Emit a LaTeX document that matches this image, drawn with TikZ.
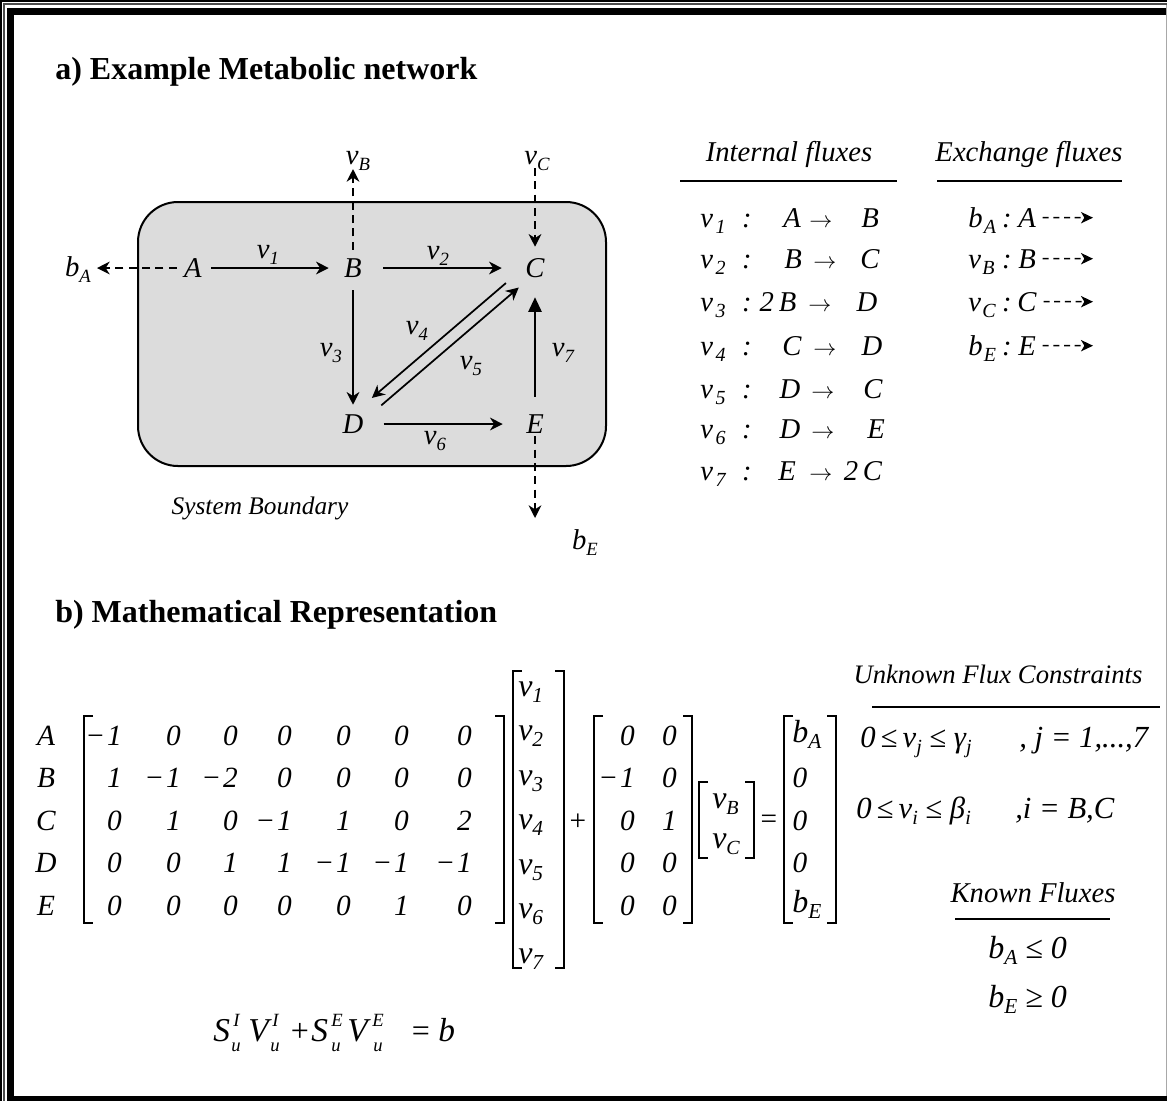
\documentclass[tikz,border=0pt]{standalone}
\usepackage{fontspec}
\setmainfont{Liberation Serif}
\usetikzlibrary{arrows.meta}
\definecolor{boxg}{HTML}{DCDCDC}
\definecolor{frameg}{HTML}{A8A8A8}
\newcommand\fs[1]{\fontsize{#1}{#1}\selectfont}
\newcommand\lo[2][14]{\raisebox{-4.5pt}{\fs{#1}#2}}
\newcommand\mn{−\kern1.5pt}
\newcommand\mylb[3]{\draw[brk] ({#1+9},#2) -- (#1,#2) -- (#1,#3) -- ({#1+9},#3);}
\newcommand\myrb[3]{\draw[brk] ({#1-9},#2) -- (#1,#2) -- (#1,#3) -- ({#1-9},#3);}
\begin{document}
\begin{tikzpicture}[x=0.75pt,y=-0.75pt,
  tx/.style={inner sep=0pt, font=\fs{21.5}\itshape},
  letnode/.style={tx, minimum width=15pt, minimum height=18pt},
  hd/.style={inner sep=0pt, font=\fs{24}\bfseries},
  sysbox/.style={draw, line width=1.5pt, fill=boxg, rounded corners=30pt, minimum width=351pt, minimum height=198pt, inner sep=0pt},
  arr/.style={line width=1.3pt, -{Stealth[length=9.5pt,width=9.5pt,inset=3pt]}},
  tarr/.style={line width=1.3pt, -{Triangle[length=11pt,width=10pt]}},
  darr/.style={arr, dash pattern=on 6pt off 4pt},
  tdarr/.style={line width=1.1pt, dash pattern=on 4.5pt off 3.5pt, -{Stealth[length=9pt,width=8.5pt,inset=2.5pt]}},
  rulel/.style={line width=1.5pt},
  brk/.style={line width=1.1pt},
  fm/.style={tx, font=\fs{25}\itshape},
  fsml/.style={tx, font=\fs{14}\itshape}
]
\useasboundingbox (0,0) rectangle (1167,1101);
% frame
\fill[white] (0,0) rectangle (1167,1101);
\fill (0,0) rectangle (1.5,1101);
\fill (0,0) rectangle (1167,1.5);
\fill[black!70] (3.3,3.3) rectangle (4.7,1101);
\fill[black!70] (3.3,3.3) rectangle (1167,4.7);
\fill (6.5,8) rectangle (14,1101);
\fill (6.5,8) rectangle (1167,15);
\fill (6.5,1096) rectangle (1167,1101);
\fill[frameg] (1165.5,4.7) rectangle (1167,1096);

% headers
\node[hd, anchor=base west] (ha) at (55,79) {a) Example Metabolic network};
\node[hd, anchor=base west] (hb) at (55,622) {b) Mathematical Representation};

% network
\node[sysbox] (box) at (372,334) {};
\node[letnode] (A) at (193,268) {A};
\node[letnode] (B) at (353,268) {B};
\node[letnode] (C) at (535,268) {C};
\node[letnode] (D) at (353,424) {D};
\node[letnode] (E) at (535,424) {E};

\draw[arr, shorten <=6pt, shorten >=10.5pt] (A) -- (B);
\draw[arr, shorten <=15pt, shorten >=17.25pt] (B) -- (C);
\draw[arr, shorten <=7.5pt, shorten >=5.25pt] (B) -- (D);
\draw[arr, shorten <=15pt, shorten >=16.5pt] (D) -- (E);
\draw[tarr, shorten <=11.25pt, shorten >=12.75pt] (E) -- (C);
\draw[arr, shorten <=23.9pt, shorten >=23.5pt] ([shift={(-4.9,-5.7)}]C.center) -- ([shift={(-4.9,-5.7)}]D.center);
\draw[arr, shorten <=25.2pt, shorten >=18.8pt] ([shift={(2.8,3.2)}]D.center) -- ([shift={(2.8,3.2)}]C.center);

\coordinate (bAt) at (97,268);
\coordinate (nBt) at (353,169);
\coordinate (nCs) at (535,168);
\coordinate (bEt) at (535,518);
\draw[darr, shorten <=4.5pt] (A) -- (bAt);
\draw[darr, shorten <=4.5pt] (B) -- (nBt);
\draw[darr, shorten >=6.75pt] (nCs) -- (C);
\draw[darr] (E) -- (bEt);

\node[tx, anchor=base] (l1) at (268,258) {ν\lo[14]{1}};
\node[tx, anchor=base] (l2) at (438,259) {ν\lo[14]{2}};
\node[tx, anchor=base] (l3) at (331,356) {ν\lo[14]{3}};
\node[tx, anchor=base] (l4) at (417,334) {ν\lo[14]{4}};
\node[tx, anchor=base] (l5) at (471,369) {ν\lo[14]{5}};
\node[tx, anchor=base] (l6) at (435,444) {ν\lo[14]{6}};
\node[tx, anchor=base] (l7) at (563,356) {ν\lo[14]{7}};
\node[tx, anchor=base] (lB) at (358,164) {ν\lo[14]{B}};
\node[tx, anchor=base] (lC) at (537,164) {ν\lo[14]{C}};
\node[tx, anchor=base] (lbA) at (78,276) {b\lo[14]{A}};
\node[tx, anchor=base] (lbE) at (585,549) {b\lo[14]{E}};
\node[tx, font=\fs{19}\itshape, anchor=base] (sb) at (260,514) {System Boundary};

% flux tables
\node[tx, anchor=base] (hint) at (789,161) {Internal fluxes};
\node[tx, anchor=base] (hexc) at (1029,161) {Exchange fluxes};
\draw[rulel] (680,181) -- (897,181);
\draw[rulel] (937,181) -- (1122,181);

\foreach \i/\y/\l/\lx/\ax/\r/\rx in {1/227/A/792/821/B/870, 2/268/B/793/825/C/870, 3/311/{2\,B}/778/820/D/867, 4/355/C/792/825/D/872, 5/398/D/790/823/C/873, 6/438/D/790/823/E/876, 7/480/E/787/821/{2\,C}/863}{
  \node[tx, anchor=base west] (tn\i) at (700,\y) {ν\kern2pt\lo[15]{\i}};
  \node[tx, anchor=base] (tc\i) at (747,\y) {:};
  \node[tx, anchor=base] (tl\i) at (\lx,\y) {\l};
  \node[tx, font=\fs{17}, anchor=base] (ta\i) at (\ax,\y) {$\rightarrow$};
  \node[tx, anchor=base] (tr\i) at (\rx,\y) {\r};
}
\foreach \i/\y/\n/\l in {1/227/b/A, 2/268/ν/B, 3/311/ν/C, 4/355/b/E}{
  \node[tx, anchor=base west] (xn\i) at (968,\y) {\n\kern1pt\lo[15]{\l}};
  \node[tx, anchor=base] (xc\i) at (1007,\y) {:};
  \node[tx, anchor=base] (xl\i) at (1027,\y) {\l};
  \coordinate (xt\i) at (1093,\y-9.3);
  \draw[tdarr, shorten <=5pt] (xl\i) -- (xt\i);
}

% matrix section
\foreach \r/\y/\L in {1/745/A,2/787/B,3/830/C,4/872/D,5/915/E}
  \node[tx, font=\fs{22}\itshape, anchor=base] (rl\r) at (46,\y) {\L};
\mylb{84}{716}{923}
\myrb{504}{716}{923}
\foreach \v [count=\c] in {\mn 1,0,0,0,0,0,0}
  \node[tx, font=\fs{22}\itshape, anchor=base east] (mA\c) at ({{115,174,231,285,344,402,465}[\c-1]+7},745) {\v};
\foreach \v [count=\c] in {1,\mn 1,\mn 2,0,0,0,0}
  \node[tx, font=\fs{22}\itshape, anchor=base east] (mB\c) at ({{115,174,231,285,344,402,465}[\c-1]+7},787) {\v};
\foreach \v [count=\c] in {0,1,0,\mn 1,1,0,2}
  \node[tx, font=\fs{22}\itshape, anchor=base east] (mC\c) at ({{115,174,231,285,344,402,465}[\c-1]+7},830) {\v};
\foreach \v [count=\c] in {0,0,1,1,\mn 1,\mn 1,\mn 1}
  \node[tx, font=\fs{22}\itshape, anchor=base east] (mD\c) at ({{115,174,231,285,344,402,465}[\c-1]+7},872) {\v};
\foreach \v [count=\c] in {0,0,0,0,0,1,0}
  \node[tx, font=\fs{22}\itshape, anchor=base east] (mE\c) at ({{115,174,231,285,344,402,465}[\c-1]+7},915) {\v};

\mylb{513}{671}{968}
\myrb{564}{671}{968}
\foreach \k in {1,...,7}
  \node[tx, font=\fs{24}\itshape, anchor=base west] (nv\k) at (518,{696+44.5*(\k-1)}) {ν\lo[16]{\k}};

\node[tx, font=\fs{22}, anchor=center] (plus) at (578,822) {+};

\mylb{594}{716}{923}
\myrb{692}{716}{923}
\foreach \r/\y/\a/\b in {1/745/0/0,2/787/\mn 1/0,3/830/0/1,4/872/0/0,5/915/0/0}{
  \node[tx, font=\fs{22}\itshape, anchor=base east] (sA\r) at (635,\y) {\a};
  \node[tx, font=\fs{22}\itshape, anchor=base east] (sB\r) at (677,\y) {\b};
}

\mylb{699}{782}{858}
\myrb{754}{782}{858}
\node[tx, font=\fs{24}\itshape, anchor=base west] (vB) at (712,808) {ν\lo[15]{B}};
\node[tx, font=\fs{24}\itshape, anchor=base west] (vC) at (712,848) {ν\lo[15]{C}};

\node[tx, font=\fs{22}, anchor=center] (eq) at (769,822) {=};

\mylb{784}{716}{923}
\myrb{836}{716}{923}
\node[tx, font=\fs{24}\itshape, anchor=base west] (bv1) at (792,742) {b\lo[16]{A}};
\node[tx, font=\fs{22}\itshape, anchor=base] (bv2) at (800,787) {0};
\node[tx, font=\fs{22}\itshape, anchor=base] (bv3) at (800,830) {0};
\node[tx, font=\fs{22}\itshape, anchor=base] (bv4) at (800,872) {0};
\node[tx, font=\fs{24}\itshape, anchor=base west] (bv5) at (792,912) {b\lo[16]{E}};

% constraints
\node[tx, font=\fs{20}\itshape, anchor=base] (hunk) at (998,683) {Unknown Flux Constraints};
\draw[rulel] (872,707) -- (1160,707);
\node[tx, font=\fs{23}\itshape, anchor=base west] (c1a) at (860,747) {0\,≤\,ν\lo[15]{j} ≤ γ\lo[15]{j}};
\node[tx, font=\fs{23}\itshape, anchor=base west] (c1b) at (1019,747) {, j = 1,...,7};
\node[tx, font=\fs{23}\itshape, anchor=base west] (c2a) at (856,818) {0\,≤\,ν\lo[15]{i} ≤ β\lo[15]{i}};
\node[tx, font=\fs{23}\itshape, anchor=base west] (c2b) at (1015,818) {,i = B,C};

\node[tx, anchor=base] (hkn) at (1033,902) {Known Fluxes};
\draw[rulel] (955,919) -- (1110,919);
\node[tx, font=\fs{24}\itshape, anchor=base west] (k1) at (988,958) {b\lo[16]{A} ≤ 0};
\node[tx, font=\fs{24}\itshape, anchor=base west] (k2) at (988,1007) {b\lo[16]{E} ≥ 0};

% formula S V + S V = b
\node[fm, anchor=base west] (s1) at (213,1041) {S};
\node[fsml, anchor=base west] (s1p) at (233,1026) {I};
\node[fsml, anchor=base west] (s1b) at (231,1051) {u};
\node[fm, anchor=base west] (v1) at (248,1041) {V};
\node[fsml, anchor=base west] (v1p) at (272,1026) {I};
\node[fsml, anchor=base west] (v1b) at (270,1051) {u};
\node[fm, font=\fs{24}, anchor=base] (fp) at (300,1041) {+};
\node[fm, anchor=base west] (s2) at (311,1041) {S};
\node[fsml, anchor=base west] (s2p) at (331,1026) {E};
\node[fsml, anchor=base west] (s2b) at (331,1051) {u};
\node[fm, anchor=base west] (v2) at (347,1041) {V};
\node[fsml, anchor=base west] (v2p) at (372,1026) {E};
\node[fsml, anchor=base west] (v2b) at (373,1051) {u};
\node[fm, font=\fs{24}, anchor=base] (feq) at (421,1041) {=};
\node[fm, anchor=base west] (fb) at (438,1041) {b};
\end{tikzpicture}
\end{document}
